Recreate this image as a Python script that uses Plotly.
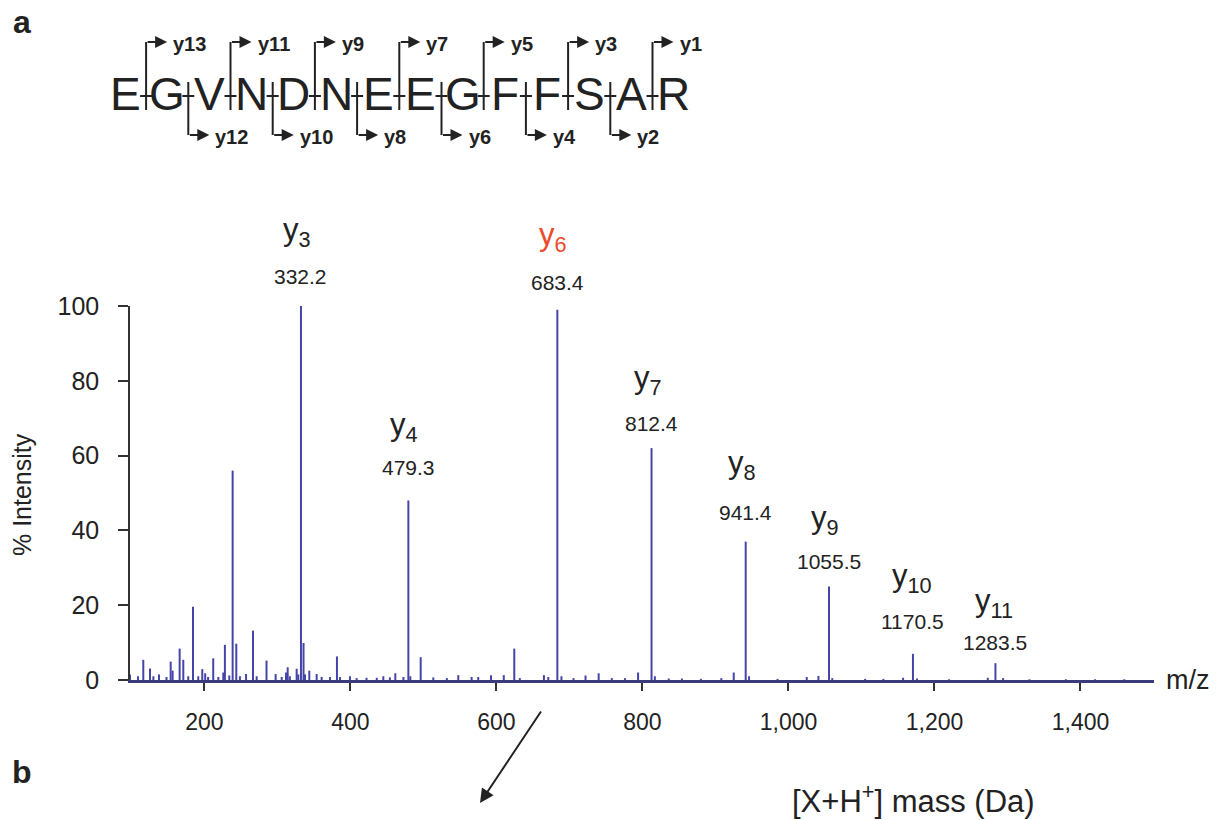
import plotly.graph_objects as go

# ---------------- data ----------------
sequence = list("EGVNDNEEGFFSAR")

ion_names = ["3", "4", "6", "7", "8", "9", "10", "11"]
ion_mz = [332.2, 479.3, 683.4, 812.4, 941.4, 1055.5, 1170.5, 1283.5]
ion_int = [100, 48, 99, 62, 37, 25, 7, 4.5]

noise_mz = [98, 109, 116.2, 125.4, 130, 137.7, 148, 153.7, 156.4, 166, 171, 177.8,
            184.3, 191.5, 197, 201, 205, 212, 219, 225.8, 228, 234, 238.6, 243.6,
            248.6, 257, 266.5, 271.5, 285, 297.5, 305.8, 311.7, 314, 317, 326.3,
            328.5, 335.7, 337.7, 343.6, 353.7, 360.5, 372, 381.5, 385.6, 399.3,
            408.5, 422, 436, 445, 454, 461.4, 472.5, 482, 496.2, 513.5, 532, 547.7,
            566, 575, 592.5, 610, 624.4, 632, 665, 671, 689, 705.5, 722, 740, 758,
            776, 794, 817, 836, 854, 880, 908, 925, 946, 985, 1025, 1041, 1060,
            1105, 1130, 1157, 1176, 1220, 1273, 1294, 1330, 1380, 1420, 1460]
noise_int = [1.5, 1.0, 5.4, 3.1, 1.0, 1.5, 0.8, 4.9, 2.5, 8.4, 5.4, 1.0,
             19.6, 1.0, 2.9, 1.8, 0.8, 5.8, 0.8, 2.0, 9.4, 1.2, 56, 9.7,
             1.0, 1.6, 13.2, 1.0, 5.2, 1.6, 0.8, 2.0, 3.4, 1.0, 3.0,
             1.5, 9.9, 1.5, 2.5, 1.6, 0.8, 0.8, 6.3, 0.8, 1.0,
             0.5, 0.6, 0.6, 1.0, 0.7, 1.8, 0.8, 1.0, 6.1, 0.7, 0.5, 1.3,
             0.8, 0.8, 1.3, 1.3, 8.4, 0.5, 1.3, 0.8, 1.0, 0.5, 1.2, 1.8, 0.5,
             0.5, 2.0, 1.0, 0.4, 0.4, 0.3, 0.5, 2.0, 1.0, 0.3, 0.8, 1.1, 0.5,
             0.3, 0.3, 0.6, 0.4, 0.2, 0.6, 0.5, 0.2, 0.2, 0.2, 0.2]

# label offsets (pixels above peak top): number, ion name
num_gap = [30, 33, 27, 25, 29, 25, 32, 21]
lab_gap = [74, 73, 73, 68, 77, 67, 76, 60]
ion_color = ["#222222", "#222222", "#ec4a2c", "#222222", "#222222", "#222222", "#222222", "#222222"]

# ---------------- layout geometry ----------------
W_PX, H_PX = 1222, 820
L, R, T, B = 130, 68, 306, 140
PW = W_PX - L - R
PH = H_PX - T - B


def px(X):
    return (X - L) / PW


def py(Y):
    return (H_PX - B - Y) / PH


FONT = "Liberation Sans, Arial, Helvetica, sans-serif"
INK = "#222222"
PEAK = "#4545a8"

# ---------------- spectrum ----------------
all_mz = noise_mz + ion_mz
all_int = noise_int + ion_int
xs, ys = [], []
for m, v in zip(all_mz, all_int):
    xs += [m, m, None]
    ys += [0, v, None]

fig = go.Figure()
fig.add_trace(go.Scatter(x=xs, y=ys, mode="lines",
                         line=dict(color=PEAK, width=2),
                         hoverinfo="skip", showlegend=False, cliponaxis=False))

annotations = []
shapes = []


def ptext(X, Y, text, size, color=INK, xanchor="center", yanchor="middle", **kw):
    annotations.append(dict(x=px(X), y=py(Y), xref="paper", yref="paper", text=text,
                            showarrow=False, xanchor=xanchor, yanchor=yanchor,
                            font=dict(size=size, color=color, family=FONT), **kw))


def parrow(X, Y, ax, ay, size, width):
    annotations.append(dict(x=px(X), y=py(Y), xref="paper", yref="paper", text="",
                            showarrow=True, ax=ax, ay=ay, arrowhead=2, arrowsize=size,
                            arrowwidth=width, arrowcolor=INK,
                            xanchor="center", yanchor="middle"))


# ion labels
for name, m, v, g1, g2, c in zip(ion_names, ion_mz, ion_int, num_gap, lab_gap, ion_color):
    annotations.append(dict(x=m, y=v, xref="x", yref="y", text=f"{m:.1f}",
                            showarrow=False, yshift=g1, xanchor="center", yanchor="middle",
                            font=dict(size=21, color=INK, family=FONT)))
    annotations.append(dict(x=m, y=v, xref="x", yref="y", text=f"y<sub>{name}</sub>",
                            showarrow=False, yshift=g2, xanchor="center", yanchor="middle",
                            xshift=-4 if len(name) == 1 else -1,
                            font=dict(size=31, color=c, family=FONT)))

# axis labels
ptext(22, 495, "% Intensity", 25, textangle=-90)
ptext(1188, 680, "m/z", 27)

# panel letters
ptext(22, 22, "<b>a</b>", 32)
ptext(22, 772, "<b>b</b>", 32)

# mass label
ptext(913, 799, "[X+H<sup>+</sup>] mass (Da)", 31)

# long arrow
parrow(480, 803, 62, -93, 1.4, 2)

# peptide sequence with fragmentation marks
SEQ_X0, SEQ_DX, SEQ_Y = 125, 42.2, 94
n = len(sequence)
for i, aa in enumerate(sequence):
    ptext(SEQ_X0 + i * SEQ_DX, SEQ_Y, aa, 46)
for i in range(n - 1):
    cx = SEQ_X0 + i * SEQ_DX + SEQ_DX / 2
    frag = n - 1 - i
    shapes.append(dict(type="line", xref="paper", yref="paper",
                       x0=px(cx - 6), x1=px(cx + 6), y0=py(96), y1=py(96),
                       line=dict(color=INK, width=2)))
    if i % 2 == 0:
        ytop, ybot, yh = 42, 110, 42
    else:
        ytop, ybot, yh = 82, 135, 135
    shapes.append(dict(type="line", xref="paper", yref="paper",
                       x0=px(cx), x1=px(cx), y0=py(ytop), y1=py(ybot),
                       line=dict(color=INK, width=2)))
    parrow(cx + 21, yh, -21, 0, 1.2, 2)
    ptext(cx + 25, yh + 2, f"<b>y{frag}</b>", 20, xanchor="left")

fig.update_layout(
    width=W_PX, height=H_PX,
    margin=dict(l=L, r=R, t=T, b=B, pad=0),
    paper_bgcolor="white", plot_bgcolor="white",
    font=dict(family=FONT, color=INK),
    showlegend=False,
    annotations=annotations,
    shapes=shapes,
    xaxis=dict(range=[98, 1500.7], showgrid=False, zeroline=False,
               tick0=200, dtick=200, tickformat=",",
               ticks="outside", ticklen=8, tickwidth=1.5, tickcolor="#333333",
               showline=True, linecolor="#3a3a7c", linewidth=2.5,
               tickfont=dict(size=23, color=INK, family=FONT),
               ticklabelstandoff=12),
    yaxis=dict(range=[0, 100], showgrid=False, zeroline=False,
               tick0=0, dtick=20, ticks="outside", ticklen=10, tickwidth=1.5,
               tickcolor="#333333", showline=True, linecolor="#333333", linewidth=1.5,
               tickfont=dict(size=25, color=INK, family=FONT),
               ticklabelstandoff=14),
)

fig.write_html("out.html")
